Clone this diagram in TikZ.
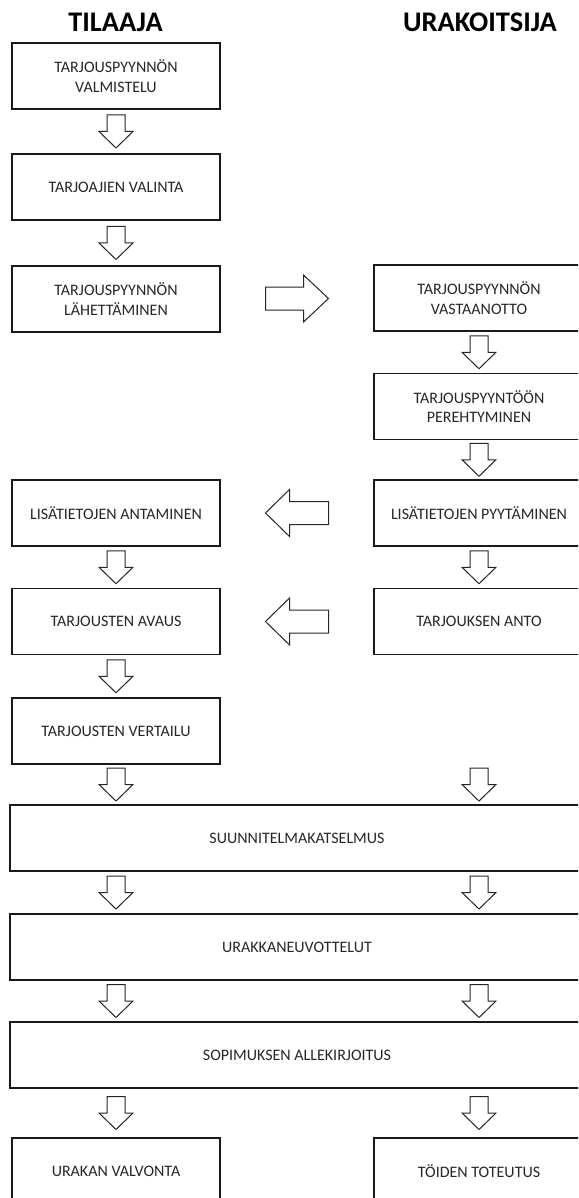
\documentclass[tikz,border=0pt]{standalone}
\usepackage{fontspec}
\setmainfont{Carlito}
\usetikzlibrary{calc}
\tikzset{
  stage/.style={draw=black!90, line width=1.1pt, rectangle, minimum height=66pt,
    inner sep=0pt, align=center, font=\fontsize{16}{19.5}\selectfont, text=black!85},
  narrow/.style={stage, minimum width=208pt},
  wide/.style={stage, minimum width=574pt},
  party/.style={font=\fontsize{28.4}{30}\selectfont\bfseries, inner sep=0pt, anchor=base},
  blockarrow/.style={draw=black!85, line width=1pt, fill=white, line join=miter},
  darrow/.pic={\draw[blockarrow] (-9,-16.5) -- (9,-16.5) -- (9,0) -- (17,0) -- (0,16.5) -- (-17,0) -- (-9,0) -- cycle;},
  rarrow/.pic={\draw[blockarrow] (-31.5,-11.5) -- (6.5,-11.5) -- (6.5,-23.5) -- (31.5,0) -- (6.5,23.5) -- (6.5,11.5) -- (-31.5,11.5) -- cycle;},
  larrow/.pic={\draw[blockarrow] (31.5,-11.5) -- (-7.5,-11.5) -- (-7.5,-23.5) -- (-31.5,0) -- (-7.5,23.5) -- (-7.5,11.5) -- (31.5,11.5) -- cycle;}
}
\begin{document}
\begin{tikzpicture}[x=1pt,y=-1pt]
\useasboundingbox (0,0) rectangle (578,1198);
\clip (0,0) rectangle (578,1198);

% column headings
\node[party] (tilaaja) at (115.5,32) {TILAAJA};
\node[party] (urakoitsija) at (480,32) {URAKOITSIJA};

% client column
\node[narrow] (b1) at (116,76)   {TARJOUSPYYNNÖN\\VALMISTELU};
\node[narrow] (b2) at (116,187)  {TARJOAJIEN VALINTA};
\node[narrow] (b3) at (116,299)  {TARJOUSPYYNNÖN\\LÄHETTÄMINEN};
\node[narrow] (b4) at (116,513)  {LISÄTIETOJEN ANTAMINEN};
\node[narrow] (b5) at (116,621.5){TARJOUSTEN AVAUS};
\node[narrow] (b6) at (116,731)  {TARJOUSTEN VERTAILU};

% contractor column
\node[stage, minimum width=210pt] (r1) at (479,298)   {TARJOUSPYYNNÖN\\VASTAANOTTO};
\node[stage, minimum width=210pt] (r2) at (479,406.5) {TARJOUSPYYNTÖÖN\\PEREHTYMINEN};
\node[stage, minimum width=210pt] (r3) at (479,513)   {LISÄTIETOJEN PYYTÄMINEN};
\node[stage, minimum width=210pt] (r4) at (479,621.5) {TARJOUKSEN ANTO};

% joint stages
\node[wide] (w1) at (297,838)  {SUUNNITELMAKATSELMUS};
\node[wide] (w2) at (297,947)  {URAKKANEUVOTTELUT};
\node[wide] (w3) at (297,1055) {SOPIMUKSEN ALLEKIRJOITUS};

% final stages
\node[narrow] (b7) at (116,1171) {URAKAN VALVONTA};
\node[stage, minimum width=210pt] (r5) at (479,1171) {TÖIDEN TOTEUTUS};

% flow arrows, client column
\pic at ($(b1.south)!.5!(b2.north)$) {darrow};
\pic at ($(b2.south)!.5!(b3.north)$) {darrow};
\pic at ($(b4.south)!.5!(b5.north)$) {darrow};
\pic at ($(b5.south)!.5!(b6.north)$) {darrow};
\pic at ($(b6.south)!.5!(w1.north -| b6.south)$) {darrow};
\pic at ($(w1.south -| b6.south)!.5!(w2.north -| b6.south)$) {darrow};
\pic at ($(w2.south -| b6.south)!.5!(w3.north -| b6.south)$) {darrow};
\pic at ($(w3.south -| b7.north)!.5!(b7.north)$) {darrow};

% flow arrows, contractor column
\pic at ($(r1.south)!.5!(r2.north)$) {darrow};
\pic at ($(r2.south)!.5!(r3.north)$) {darrow};
\pic at ($(r3.south)!.5!(r4.north)$) {darrow};
\pic at ($(r4.south |- b6.south)!.5!(w1.north -| r4.south)$) {darrow};
\pic at ($(w1.south -| r4.south)!.5!(w2.north -| r4.south)$) {darrow};
\pic at ($(w2.south -| r4.south)!.5!(w3.north -| r4.south)$) {darrow};
\pic at ($(w3.south -| r5.north)!.5!(r5.north)$) {darrow};

% arrows between the parties
\pic at ($(b3.east)!.5!(r1.west)$) {rarrow};
\pic at ($(r3.west)!.5!(b4.east)$) {larrow};
\pic at ($(r4.west)!.5!(b5.east)$) {larrow};
\end{tikzpicture}
\end{document}
